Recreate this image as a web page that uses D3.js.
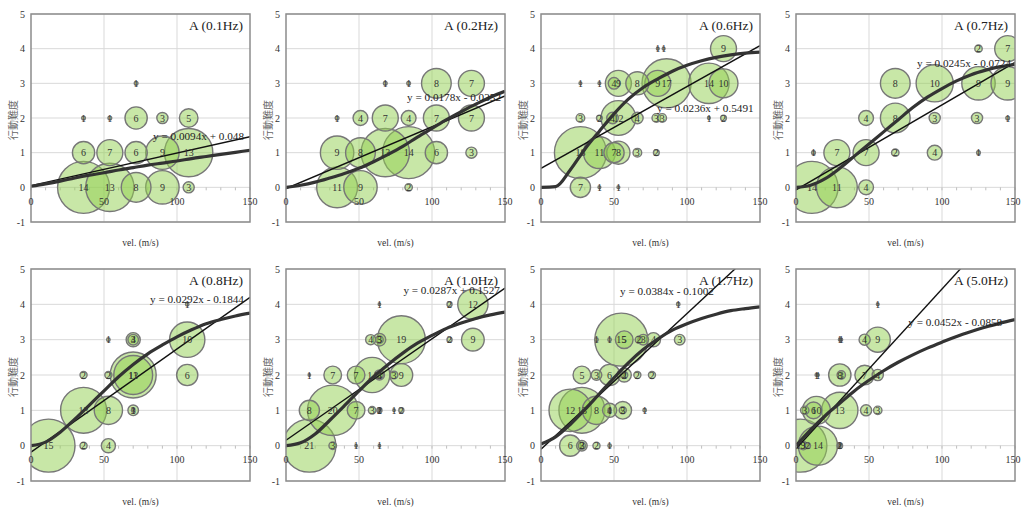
<!DOCTYPE html>
<html>
<head>
<meta charset="utf-8">
<script src="https://cdn.jsdelivr.net/npm/d3@7"></script>
<style>
  body { margin: 0; background: #fff; }
  text { font-family: "Liberation Serif", "Times New Roman", serif; }
</style>
</head>
<body>
<svg id="chart" width="1021" height="508"></svg>
<script>
"use strict";

// ---- data ----
const titles = ["A (0.1Hz)", "A (0.2Hz)", "A (0.6Hz)", "A (0.7Hz)", "A (0.8Hz)", "A (1.0Hz)", "A (1.7Hz)", "A (5.0Hz)"];
const slopes = [0.0094, 0.0178, 0.0236, 0.0245, 0.0292, 0.0287, 0.0384, 0.0452];
const intercepts = [0.048, -0.0352, 0.5491, -0.0724, -0.1844, 0.1527, -0.1002, -0.0858];
const eqTexts = [
  "y = 0.0094x + 0.048", "y = 0.0178x - 0.0352", "y = 0.0236x + 0.5491", "y = 0.0245x - 0.0724",
  "y = 0.0292x - 0.1844", "y = 0.0287x + 0.1527", "y = 0.0384x - 0.1002", "y = 0.0452x - 0.0858"
];
// equation label anchor, in data units (x, y)
const eqAnchors = [[83.6, 1.47], [82.9, 2.59], [79.5, 2.28], [82.9, 3.57], [81.5, 4.14], [80.4, 4.41], [54.1, 4.38], [76.9, 3.5]];

// bubbles: [vel, level, count]
const bubbles01 = [[72,3,1],[36,2,1],[54,2,1],[72,2,6],[90,2,3],[108,2,5],
  [36,1,6],[54,1,7],[72,1,6],[90,1,9],[108,1,13],
  [36,0,14],[54,0,13],[72,0,8],[90,0,9],[108,0,3]];
const bubbles02 = [[68,3,1],[84,3,1],[103,3,8],[127,3,7],
  [35,2,1],[51,2,4],[68,2,7],[84,2,4],[103,2,7],[127,2,7],
  [35,1,9],[51,1,8],[68,1,13],[84,1,14],[103,1,6],[127,1,3],
  [35,0,11],[51,0,9],[84,0,2]];
const bubbles06 = [[80,4,1],[84,4,1],[125,4,9],
  [27,3,1],[40,3,1],[50,3,4],[53,3,9],[66,3,8],[80,3,9],[86,3,17],[115,3,14],[125,3,10],
  [27,2,3],[40,2,2],[49,2,4],[53,2,12],[66,2,4],[79,2,3],[83,2,3],[115,2,1],[125,2,2],
  [27,1,18],[40,1,11],[50,1,7],[53,1,8],[66,1,3],[79,1,2],
  [27,0,7],[40,0,1],[53,0,1]];
const bubbles07 = [[125,4,2],[145,4,7],
  [68,3,8],[95,3,10],[125,3,9],[145,3,9],
  [48,2,4],[68,2,8],[95,2,3],[124,2,3],[145,2,1],
  [12,1,1],[28,1,7],[48,1,7],[68,1,2],[95,1,4],[125,1,1],
  [11,0,14],[28,0,11],[48,0,4]];
const bubbles08 = [[107,4,1],
  [53,3,1],[70,3,4],[70,3,3],[107,3,10],
  [36,2,2],[53,2,2],[70,2,13],[70,2,11],[107,2,6],
  [36,1,13],[53,1,8],[70,1,3],[70,1,1],
  [12,0,15],[36,0,2],[53,0,4]];
const bubbles10 = [[64,4,1],[112,4,2],[128,4,12],
  [58,3,4],[64,3,5],[64,3,3],[79,3,19],[112,3,2],[128,3,9],
  [16,2,1],[32,2,7],[48,2,7],[59,2,14],[64,2,4],[64,2,3],[74,2,3],[79,2,9],
  [16,1,8],[32,1,20],[48,1,7],[59,1,3],[64,1,2],[64,1,1],[74,1,1],[79,1,2],
  [16,0,21],[32,0,3],[48,0,1],[64,0,1]];
const bubbles17 = [[94,4,1],
  [38,3,1],[47,3,1],[55,3,15],[57,3,5],[67,3,2],[70,3,3],[77,3,4],[95,3,3],
  [28,2,5],[38,2,3],[47,2,6],[57,2,4],[57,2,2],[66,2,2],[76,2,2],
  [20,1,12],[28,1,13],[38,1,8],[47,1,4],[47,1,1],[56,1,5],[56,1,2],[71,1,1],
  [20,0,6],[28,0,3],[28,0,2],[38,0,2],[47,0,1]];
const bubbles50 = [[56,4,1],
  [30,3,1],[31,3,1],[47,3,4],[56,3,9],
  [14,2,1],[15,2,1],[30,2,8],[31,2,3],[47,2,7],[56,2,4],
  [6,1,3],[12,1,6],[14,1,10],[30,1,13],[48,1,4],[56,1,3],
  [3,0,19],[5,0,3],[8,0,2],[15,0,14],[30,0,2],[30,0,1]];
const bubbleSets = [bubbles01, bubbles02, bubbles06, bubbles07, bubbles08, bubbles10, bubbles17, bubbles50];

// fitted curve (thick line), sampled at curveX
const curveX = [0,10,20,30,40,50,60,70,80,90,100,110,120,130,140,150];
const curve01 = [0.03,0.1,0.18,0.27,0.35,0.42,0.5,0.57,0.64,0.7,0.76,0.83,0.89,0.95,1.01,1.07];
const curve02 = [0,0.06,0.15,0.27,0.4,0.55,0.74,0.95,1.18,1.45,1.7,1.95,2.18,2.4,2.6,2.77];
const curve06 = [0,0.02,0.5,1.1,1.62,2.12,2.55,2.88,3.13,3.35,3.52,3.65,3.75,3.82,3.87,3.9];
const curve07 = [0,0.06,0.25,0.55,0.9,1.25,1.6,1.95,2.3,2.6,2.85,3.07,3.25,3.38,3.48,3.55];
const curve08 = [0,0.1,0.38,0.75,1.15,1.55,1.95,2.3,2.6,2.85,3.08,3.28,3.45,3.57,3.67,3.75];
const curve10 = [0,0.08,0.33,0.72,1.13,1.55,1.95,2.3,2.62,2.9,3.12,3.32,3.47,3.6,3.7,3.78];
const curve17 = [0.05,0.25,0.6,1.02,1.47,1.92,2.35,2.72,3.02,3.27,3.45,3.6,3.72,3.82,3.88,3.93];
const curve50 = [0,0.45,0.85,1.2,1.55,1.85,2.12,2.36,2.57,2.76,2.93,3.09,3.23,3.36,3.47,3.57];
const curveSets = [curve01, curve02, curve06, curve07, curve08, curve10, curve17, curve50];

const xTicks = [0, 50, 100, 150];
const yTicks = [-1, 0, 1, 2, 3, 4, 5];
const xGrid = [50, 100];
const xTitle = "vel. (m/s)";
const yTitle = "行動難度";

// ---- layout ----
const COL_X = [0, 255, 510, 765];
const ROW_Y = [0, 254];
const PLOT = { LEFT: 31, RIGHT: 250, TOP: [14, 15], BOTTOM: [222, 227] };

const svg = d3.select("#chart");

titles.forEach((title, i) => {
  const col = i % 4, row = Math.floor(i / 4);
  const top = PLOT.TOP[row], bottom = PLOT.BOTTOM[row];
  const g = svg.append("g").attr("transform", `translate(${COL_X[col]},${ROW_Y[row]})`);

  const x = d3.scaleLinear().domain([0, 150]).range([PLOT.LEFT, PLOT.RIGHT]);
  const y = d3.scaleLinear().domain([-1, 5]).range([bottom, top]);
  const data = bubbleSets[i].slice().sort((a, b) => b[2] - a[2]);
  // largest bubble is 25% of the smaller plot side (diameter), width scales with count
  const r = d3.scaleLinear()
    .domain([0, d3.max(data, d => d[2])])
    .range([0, 0.125 * Math.min(PLOT.RIGHT - PLOT.LEFT, bottom - top)]);

  const clipId = "clip" + i;
  g.append("clipPath").attr("id", clipId).append("rect")
    .attr("x", PLOT.LEFT).attr("y", top)
    .attr("width", PLOT.RIGHT - PLOT.LEFT).attr("height", bottom - top);

  // grid
  g.selectAll("line.hgrid").data(yTicks).join("line").attr("class", "hgrid")
    .attr("x1", PLOT.LEFT).attr("x2", PLOT.RIGHT)
    .attr("y1", d => y(d)).attr("y2", d => y(d))
    .attr("stroke", "#d9d9d9").attr("stroke-width", 1);
  g.selectAll("line.vgrid").data(xGrid).join("line").attr("class", "vgrid")
    .attr("x1", d => x(d)).attr("x2", d => x(d))
    .attr("y1", top).attr("y2", bottom)
    .attr("stroke", "#d9d9d9").attr("stroke-width", 1);

  // minor ticks on the x axis (y = 0)
  g.selectAll("line.xminor").data(d3.range(0, 151, 10)).join("line").attr("class", "xminor")
    .attr("x1", d => x(d)).attr("x2", d => x(d))
    .attr("y1", y(0)).attr("y2", y(0) + 3)
    .attr("stroke", "#bfbfbf").attr("stroke-width", 1);

  const plotArea = g.append("g").attr("clip-path", `url(#${clipId})`);

  // bubbles
  plotArea.selectAll("circle").data(data).join("circle")
    .attr("cx", d => x(d[0])).attr("cy", d => y(d[1])).attr("r", d => r(d[2]))
    .attr("fill", "#92d050").attr("fill-opacity", 0.5)
    .attr("stroke", "#777").attr("stroke-width", 1.4);

  // linear trend
  plotArea.append("path")
    .datum([0, 150].map(v => [v, slopes[i] * v + intercepts[i]]))
    .attr("d", d3.line().x(d => x(d[0])).y(d => y(d[1])))
    .attr("fill", "none").attr("stroke", "#111").attr("stroke-width", 1.4);

  // fitted curve
  plotArea.append("path")
    .datum(curveX.map((v, k) => [v, curveSets[i][k]]))
    .attr("d", d3.line().x(d => x(d[0])).y(d => y(d[1])).curve(d3.curveMonotoneX))
    .attr("fill", "none").attr("stroke", "#333").attr("stroke-width", 3.2);

  // plot border
  g.append("rect")
    .attr("x", PLOT.LEFT).attr("y", top)
    .attr("width", PLOT.RIGHT - PLOT.LEFT).attr("height", bottom - top)
    .attr("fill", "none").attr("stroke", "#8c8c8c").attr("stroke-width", 1.5);

  // bubble labels
  g.selectAll("text.blabel").data(data).join("text").attr("class", "blabel")
    .attr("x", d => x(d[0])).attr("y", d => y(d[1])).attr("dy", "0.35em")
    .attr("text-anchor", "middle").attr("font-size", 10).attr("fill", "#333")
    .text(d => d[2]);

  // tick labels
  g.selectAll("text.ytick").data(yTicks).join("text").attr("class", "ytick")
    .attr("x", PLOT.LEFT - 6).attr("y", d => y(d)).attr("dy", "0.35em")
    .attr("text-anchor", "end").attr("font-size", 10).attr("fill", "#333")
    .text(d => d);
  g.selectAll("text.xtick").data(xTicks).join("text").attr("class", "xtick")
    .attr("x", d => x(d) - (d === 150 && col === 3 ? 2 : 0)).attr("y", y(0) + 14).attr("dy", "0.35em")
    .attr("text-anchor", "middle").attr("font-size", 10).attr("fill", "#333")
    .text(d => d);

  // axis titles
  g.append("text")
    .attr("x", (PLOT.LEFT + PLOT.RIGHT) / 2).attr("y", bottom + 21).attr("dy", "0.35em")
    .attr("text-anchor", "middle").attr("font-size", 9.5).attr("fill", "#333")
    .text(xTitle);
  g.append("text")
    .attr("transform", `translate(13,${(top + bottom) / 2 + 2}) rotate(-90)`)
    .attr("text-anchor", "middle").attr("dy", "0.35em")
    .attr("font-size", 10).attr("fill", "#666")
    .style("font-family", "'Noto Sans CJK TC', sans-serif")
    .text(yTitle);

  // equation
  g.append("text")
    .attr("x", x(eqAnchors[i][0])).attr("y", y(eqAnchors[i][1])).attr("dy", "0.35em")
    .attr("font-size", 11.2).attr("fill", "#222")
    .text(eqTexts[i]);

  // title
  g.append("text")
    .attr("x", PLOT.RIGHT - 7).attr("y", top + 11).attr("dy", "0.35em")
    .attr("text-anchor", "end").attr("font-size", 13.5).attr("fill", "#222")
    .text(title);
});
</script>
</body>
</html>
